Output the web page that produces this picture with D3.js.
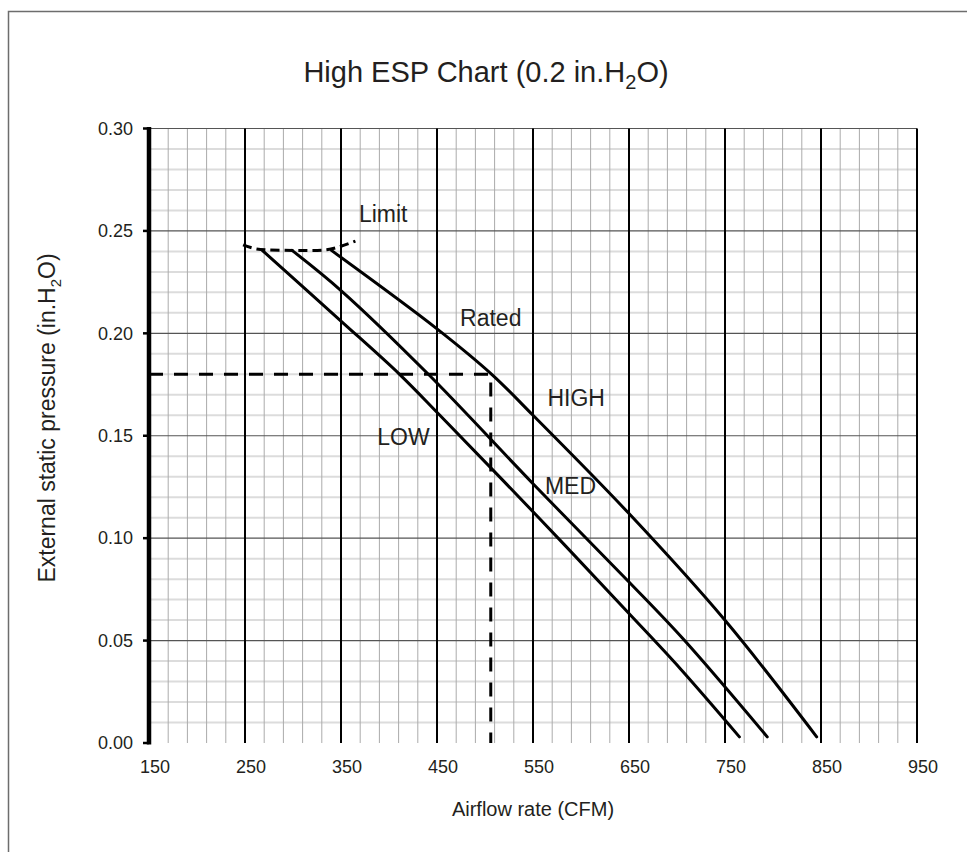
<!DOCTYPE html>
<html><head><meta charset="utf-8">
<script src="https://cdn.jsdelivr.net/npm/d3@7"></script>
<style>body{margin:0;background:#fff}svg{display:block}text{font-family:"Liberation Sans",Arial,sans-serif;fill:#231f20}</style>
</head><body><svg id="c" width="967" height="852"></svg>
<script>
const xTicks = [150,250,350,450,550,650,750,850,950];
const yTicks = [0.00,0.05,0.10,0.15,0.20,0.25,0.30];
const lowCFM  = [268, 350, 411, 453, 557, 650, 703, 765];
const lowESP  = [0.2405, 0.206, 0.180, 0.160, 0.1095, 0.0632, 0.0365, 0.003];
const medCFM  = [299, 350, 441, 550, 650, 707, 794];
const medESP  = [0.2405, 0.2209, 0.180, 0.1266, 0.0786, 0.0505, 0.003];
const highCFM = [340, 450, 507, 550, 650, 750, 845.5];
const highESP = [0.2405, 0.2022, 0.180, 0.160, 0.112, 0.0599, 0.003];
const limitCFM = [248, 262, 300, 335, 350, 365];
const limitESP = [0.2432, 0.2412, 0.2405, 0.2408, 0.2425, 0.2450];
const ratedCFM = 506, ratedESP = 0.18;
const labels = [
  {t:"Limit", cfm:394, esp:0.2583},
  {t:"Rated", cfm:506, esp:0.2075},
  {t:"HIGH",  cfm:595, esp:0.1685},
  {t:"MED",   cfm:589, esp:0.1255},
  {t:"LOW",   cfm:415, esp:0.1494}
];

const svg = d3.select("#c");
const x = d3.scaleLinear().domain([150,950]).range([149,917]);
const y = d3.scaleLinear().domain([0,0.30]).range([743,128.5]);

svg.append("rect").attr("x",8.5).attr("y",11.5).attr("width",1000).attr("height",900)
  .attr("fill","none").attr("stroke","#6d6d6d").attr("stroke-width",1.5);

const title = svg.append("text").attr("x",486).attr("y",82).attr("text-anchor","middle").attr("font-size",29);
title.append("tspan").text("High ESP Chart (0.2 in.H");
title.append("tspan").attr("font-size",20).attr("dy",7).text("2");
title.append("tspan").attr("dy",-7).text("O)");

const g = svg.append("g");
const minorY = d3.range(1,30).filter(i=>i%5!==0).map(i=>i/100);
const majorY = d3.range(1,7).map(i=>i*0.05);
const minorX = d3.range(170,950,20).filter(v=>(v-50)%100!==0);
const majorX = d3.range(250,951,100);

g.selectAll(".hmin").data(minorY).join("line")
  .attr("x1",x(150)).attr("x2",x(950)).attr("y1",d=>y(d)).attr("y2",d=>y(d))
  .attr("stroke","#dcdcdc").attr("stroke-width",2);
g.selectAll(".vmin").data(minorX).join("line")
  .attr("x1",d=>x(d)).attr("x2",d=>x(d)).attr("y1",y(0.30)).attr("y2",y(0))
  .attr("stroke","#ababab").attr("stroke-width",1);
g.selectAll(".hmaj").data(majorY).join("line")
  .attr("x1",x(150)).attr("x2",x(950)).attr("y1",d=>y(d)).attr("y2",d=>y(d))
  .attr("stroke","#555").attr("stroke-width",1.2);
g.selectAll(".vmaj").data(majorX).join("line")
  .attr("x1",d=>x(d)).attr("x2",d=>x(d)).attr("y1",y(0.30)).attr("y2",y(0))
  .attr("stroke","#000").attr("stroke-width",2);

g.append("line").attr("x1",x(150)).attr("x2",x(150)).attr("y1",y(0.30)-1.5).attr("y2",y(0)+1.5)
  .attr("stroke","#000").attr("stroke-width",4.5);
g.selectAll(".yt").data(yTicks).join("line")
  .attr("x1",x(150)-6).attr("x2",x(150)).attr("y1",d=>y(d)).attr("y2",d=>y(d))
  .attr("stroke","#000").attr("stroke-width",2.5);
g.selectAll(".ytl").data(yTicks).join("text")
  .attr("x",133).attr("y",d=>y(d)).attr("dy","0.35em").attr("text-anchor","end")
  .attr("font-size",18).text(d=>d3.format(".2f")(d));
g.selectAll(".xtl").data(xTicks).join("text")
  .attr("x",d=>x(d)+6).attr("y",773).attr("text-anchor","middle")
  .attr("font-size",18).text(d=>d);

svg.append("text").attr("x",533).attr("y",816).attr("text-anchor","middle").attr("font-size",20)
  .text("Airflow rate (CFM)");
const yl = svg.append("text").attr("transform","translate(55,418) rotate(-90)")
  .attr("text-anchor","middle").attr("font-size",23);
yl.append("tspan").text("External static pressure (in.H");
yl.append("tspan").attr("font-size",15).attr("dy",6).text("2");
yl.append("tspan").attr("dy",-6).text("O)");

const line = d3.line().x(d=>x(d[0])).y(d=>y(d[1]));
g.append("path").attr("d",line([[150,ratedESP],[ratedCFM,ratedESP],[ratedCFM,0]]))
  .attr("fill","none").attr("stroke","#000").attr("stroke-width",3).attr("stroke-dasharray","14,11");

const curve = d3.line().x(d=>x(d[0])).y(d=>y(d[1])).curve(d3.curveCatmullRom.alpha(0.5));
[[lowCFM,lowESP],[medCFM,medESP],[highCFM,highESP]].forEach(([c,e])=>{
  g.append("path").attr("d",curve(c.map((v,i)=>[v,e[i]])))
    .attr("fill","none").attr("stroke","#000").attr("stroke-width",3).attr("stroke-linecap","round");
});
g.append("path").attr("d",curve(limitCFM.map((v,i)=>[v,limitESP[i]])))
  .attr("fill","none").attr("stroke","#000").attr("stroke-width",3).attr("stroke-dasharray","9,5");

svg.selectAll(".lab").data(labels).join("text")
  .attr("x",d=>x(d.cfm)).attr("y",d=>y(d.esp)).attr("dy","0.35em").attr("text-anchor","middle")
  .attr("font-size",23).text(d=>d.t);
</script></body></html>
